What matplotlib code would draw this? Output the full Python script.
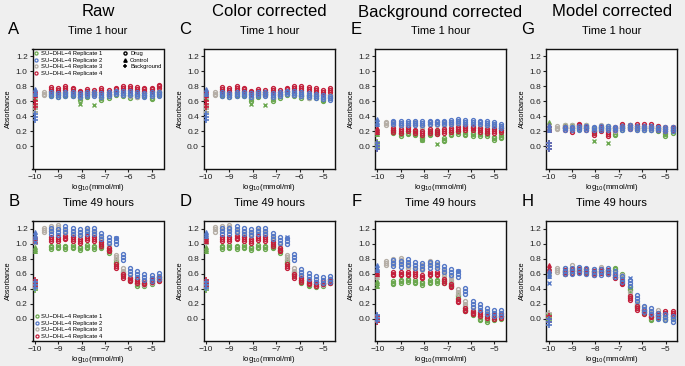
import numpy as np
import matplotlib
matplotlib.use("Agg")
import matplotlib.pyplot as plt
from matplotlib.lines import Line2D

plt.rcParams['font.family'] = ['Liberation Sans', 'DejaVu Sans']

nan = float('nan')

# ---------------- data ----------------
doses = [-9.62, -9.31, -9.00, -8.69, -8.39, -8.08, -7.77, -7.47, -7.16,
         -6.85, -6.54, -6.24, -5.93, -5.62, -5.32, -5.01, -4.70]
control_x = -10.0
column_titles = ["Raw", "Color corrected", "Background corrected", "Model corrected"]
rep_labels = ["SU\u2212DHL\u22124 Replicate 1", "SU\u2212DHL\u22124 Replicate 2",
              "SU\u2212DHL\u22124 Replicate 3", "SU\u2212DHL\u22124 Replicate 4"]
type_labels = ["Drug", "Control", "Background"]
rep_colors = ["#6ba84f", "#5578c6", "#b5aea6", "#c3203c"]

# technical spread (half range of wells) per replicate
spread_1h = [0.02, 0.025, 0.02, 0.025]
spread_49h = [0.02, 0.04, 0.03, 0.025]
ctrl_spread = 0.03
bg_spread = 0.04

# ---- A: Raw, 1 hour ----
A_r1 = [nan, 0.69, 0.68, 0.69, 0.69, 0.64, 0.68, 0.70, 0.64, 0.67, 0.70, 0.69, 0.67, 0.68, 0.69, 0.65, 0.71]
A_r2 = [nan, 0.70, 0.69, 0.70, 0.70, 0.69, 0.70, 0.70, 0.69, 0.70, 0.72, 0.71, 0.71, 0.70, 0.69, 0.70, 0.70]
A_r3 = [0.70, 0.72, 0.71, 0.73, 0.72, 0.68, 0.72, 0.71, 0.68, 0.70, 0.72, 0.71, 0.69, 0.68, 0.71, 0.70, 0.72]
A_r4 = [nan, 0.77, 0.75, 0.78, 0.76, 0.72, 0.74, 0.73, 0.75, 0.73, 0.76, 0.78, 0.78, 0.77, 0.76, 0.76, 0.80]
A_ctrl = [0.68, 0.73, 0.70, 0.72]
A_bg = [0.50, 0.39, 0.50, 0.56]
# ---- B: Raw, 49 hours ----
B_r1 = [nan, 0.95, 0.96, 0.95, 0.96, 0.94, 0.96, 0.95, 0.96, 0.90, 0.76, 0.60, 0.52, 0.46, 0.46, 0.48, 0.54]
B_r2 = [nan, 1.17, 1.16, 1.19, 1.17, 1.15, 1.17, 1.17, 1.10, 1.05, 1.03, 0.82, 0.63, 0.59, 0.55, 0.54, 0.57]
B_r3 = [1.18, 1.20, 1.22, 1.14, 1.12, 1.12, 1.18, 1.14, 1.05, 0.97, 0.82, 0.64, 0.56, 0.50, 0.48, 0.50, 0.53]
B_r4 = [nan, 1.06, 1.06, 1.08, 1.06, 1.03, 1.07, 1.06, 0.99, 0.92, 0.70, 0.57, 0.52, 0.50, 0.48, 0.51, 0.53]
B_ctrl = [0.93, 1.12, 1.05, 1.07]
B_bg = [0.42, 0.45, 0.45, 0.47]
# ---- C: Color corrected, 1 hour ----
C_r1 = [nan, 0.69, 0.68, 0.69, 0.69, 0.63, 0.68, 0.70, 0.63, 0.67, 0.70, 0.69, 0.67, 0.67, 0.67, 0.62, 0.66]
C_r2 = [nan, 0.70, 0.69, 0.70, 0.70, 0.69, 0.70, 0.70, 0.69, 0.70, 0.72, 0.71, 0.70, 0.69, 0.67, 0.66, 0.65]
C_r3 = [0.70, 0.72, 0.71, 0.73, 0.72, 0.68, 0.72, 0.71, 0.68, 0.70, 0.72, 0.71, 0.69, 0.67, 0.69, 0.67, 0.68]
C_r4 = [nan, 0.77, 0.75, 0.78, 0.76, 0.72, 0.74, 0.73, 0.75, 0.73, 0.76, 0.78, 0.78, 0.77, 0.75, 0.73, 0.75]
C_ctrl = [0.68, 0.73, 0.70, 0.72]
C_bg = [0.50, 0.39, 0.50, 0.56]
# ---- D: Color corrected, 49 hours ----
D_r1 = [nan, 0.95, 0.96, 0.95, 0.96, 0.94, 0.96, 0.95, 0.96, 0.90, 0.76, 0.60, 0.50, 0.45, 0.44, 0.46, 0.50]
D_r2 = [nan, 1.17, 1.17, 1.19, 1.17, 1.15, 1.17, 1.17, 1.10, 1.05, 1.03, 0.82, 0.62, 0.57, 0.53, 0.52, 0.53]
D_r3 = [1.19, 1.21, 1.22, 1.14, 1.12, 1.13, 1.18, 1.14, 1.05, 0.97, 0.82, 0.64, 0.55, 0.49, 0.46, 0.48, 0.50]
D_r4 = [nan, 1.06, 1.06, 1.08, 1.06, 1.03, 1.07, 1.06, 0.99, 0.92, 0.70, 0.57, 0.51, 0.48, 0.46, 0.48, 0.50]
D_ctrl = [0.93, 1.13, 1.05, 1.06]
D_bg = [0.42, 0.45, 0.45, 0.47]
# ---- E: Background corrected, 1 hour ----
E_r1 = [nan, 0.20, 0.16, 0.18, 0.17, 0.11, 0.17, 0.18, 0.09, 0.17, 0.19, 0.17, 0.16, 0.16, 0.16, 0.11, 0.13]
E_r2 = [nan, 0.32, 0.31, 0.31, 0.31, 0.31, 0.32, 0.32, 0.32, 0.33, 0.34, 0.33, 0.33, 0.32, 0.31, 0.30, 0.27]
E_r3 = [0.31, 0.29, 0.28, 0.29, 0.30, 0.27, 0.30, 0.30, 0.29, 0.31, 0.30, 0.28, 0.27, 0.26, 0.27, 0.26, 0.24]
E_r4 = [nan, 0.22, 0.21, 0.23, 0.20, 0.18, 0.21, 0.19, 0.21, 0.22, 0.23, 0.25, 0.24, 0.22, 0.21, 0.21, 0.22]
E_ctrl = [0.19, 0.33, 0.22, 0.22]
E_bg = [0.02, 0.00, 0.01, 0.00]
# ---- F: Background corrected, 49 hours ----
F_r1 = [nan, 0.48, 0.50, 0.51, 0.49, 0.47, 0.49, 0.50, 0.50, 0.45, 0.30, 0.12, 0.07, 0.00, -0.02, 0.00, 0.02]
F_r2 = [nan, 0.74, 0.73, 0.75, 0.72, 0.70, 0.72, 0.72, 0.66, 0.62, 0.60, 0.37, 0.20, 0.15, 0.10, 0.08, 0.07]
F_r3 = [0.74, 0.76, 0.78, 0.70, 0.68, 0.68, 0.74, 0.70, 0.60, 0.52, 0.36, 0.20, 0.12, 0.06, 0.04, 0.05, 0.05]
F_r4 = [nan, 0.60, 0.60, 0.60, 0.59, 0.56, 0.60, 0.60, 0.50, 0.44, 0.24, 0.12, 0.08, 0.06, 0.03, 0.02, 0.03]
F_ctrl = [0.47, 0.68, 0.58, 0.62]
F_bg = [0.00, 0.01, 0.00, 0.00]
# ---- G: Model corrected, 1 hour ----
G_r1 = [nan, 0.27, 0.27, 0.25, 0.27, 0.21, 0.24, 0.25, 0.17, 0.24, 0.26, 0.25, 0.24, 0.24, 0.23, 0.16, 0.20]
G_r2 = [nan, 0.24, 0.24, 0.25, 0.25, 0.24, 0.25, 0.25, 0.24, 0.25, 0.26, 0.25, 0.25, 0.25, 0.24, 0.23, 0.23]
G_r3 = [0.25, 0.26, 0.26, 0.27, 0.26, 0.24, 0.26, 0.25, 0.23, 0.26, 0.26, 0.24, 0.24, 0.24, 0.25, 0.23, 0.24]
G_r4 = [nan, 0.24, 0.22, 0.28, 0.24, 0.18, 0.23, 0.17, 0.24, 0.27, 0.26, 0.27, 0.27, 0.27, 0.25, 0.23, 0.24]
G_ctrl = [0.29, 0.25, 0.26, 0.25]
G_bg = [0.01, 0.00, 0.00, 0.00]
# ---- H: Model corrected, 49 hours ----
H_r1 = [nan, 0.62, 0.63, 0.65, 0.64, 0.62, 0.64, 0.63, 0.66, 0.58, 0.40, 0.17, 0.10, 0.00, 0.03, 0.00, 0.02]
H_r2 = [nan, 0.63, 0.64, 0.65, 0.64, 0.62, 0.62, 0.64, 0.60, 0.53, 0.48, 0.28, 0.13, 0.10, 0.03, 0.02, 0.00]
H_r3 = [0.65, 0.64, 0.68, 0.64, 0.63, 0.63, 0.66, 0.62, 0.58, 0.55, 0.32, 0.18, 0.12, 0.05, 0.08, 0.02, 0.04]
H_r4 = [nan, 0.62, 0.63, 0.64, 0.63, 0.61, 0.63, 0.62, 0.56, 0.48, 0.27, 0.14, 0.09, 0.04, 0.05, 0.08, 0.07]
H_ctrl = [0.64, 0.60, 0.64, 0.68]
H_bg = [0.02, -0.05, 0.04, 0.00]

# flagged wells (drawn as x): (panel, x, y, replicate index)
flag_panel = ["A", "A", "C", "C", "E", "E", "G", "G", "B", "B", "D", "F", "H", "H"]
flag_x = [-8.08, -7.47, -8.08, -7.47, -8.08, -7.47, -8.08, -7.47, -6.54, -10.0, -6.54, -6.54, -6.54, -10.0]
flag_y = [0.57, 0.55, 0.57, 0.55, 0.08, 0.03, 0.07, 0.05, 1.07, 1.02, 1.09, 0.64, 0.54, 0.48]
flag_rep = [0, 0, 0, 0, 0, 0, 0, 0, 1, 1, 1, 1, 1, 1]

panels = [
    ("A", 0, 0, "Time 1 hour", [A_r1, A_r2, A_r3, A_r4], A_ctrl, A_bg, spread_1h),
    ("B", 0, 1, "Time 49 hours", [B_r1, B_r2, B_r3, B_r4], B_ctrl, B_bg, spread_49h),
    ("C", 1, 0, "Time 1 hour", [C_r1, C_r2, C_r3, C_r4], C_ctrl, C_bg, spread_1h),
    ("D", 1, 1, "Time 49 hours", [D_r1, D_r2, D_r3, D_r4], D_ctrl, D_bg, spread_49h),
    ("E", 2, 0, "Time 1 hour", [E_r1, E_r2, E_r3, E_r4], E_ctrl, E_bg, spread_1h),
    ("F", 2, 1, "Time 49 hours", [F_r1, F_r2, F_r3, F_r4], F_ctrl, F_bg, spread_49h),
    ("G", 3, 0, "Time 1 hour", [G_r1, G_r2, G_r3, G_r4], G_ctrl, G_bg, spread_1h),
    ("H", 3, 1, "Time 49 hours", [H_r1, H_r2, H_r3, H_r4], H_ctrl, H_bg, spread_49h),
]

# ---------------- figure ----------------
W, H = 685, 366
fig = plt.figure(figsize=(W / 100, H / 100), dpi=100, facecolor="#efefef")

colw = W / 4
ax_left_off, ax_w = 32.5, 131
row_top = [49, 221]
ax_h = 120

draw_order = [0, 2, 3, 1]
ms = 2.8
mew = 1.0

def fx(px):
    return px / W

def fy(py):
    return 1 - py / H

for letter, col, row, sub, reps, ctrl, bg, spread in panels:
    left = col * colw + ax_left_off
    top = row_top[row]
    ax = fig.add_axes([fx(left), fy(top + ax_h), fx(ax_w), ax_h / H])
    ax.set_facecolor("#fafafa")
    for r in draw_order:
        c = rep_colors[r]
        s = spread[r]
        vals = np.array(reps[r], dtype=float)
        for off in (-s, 0.0, s):
            ax.plot(doses, vals + off, linestyle="none", marker="o", ms=ms,
                    mfc="none", mec=c, mew=mew, zorder=3)
        ax.plot([control_x] * 3, [ctrl[r] - ctrl_spread, ctrl[r], ctrl[r] + ctrl_spread],
                linestyle="none", marker="^", ms=ms, mfc=c, mec=c, mew=0.8, zorder=3)
        ax.plot([control_x] * 3, [bg[r] - bg_spread, bg[r], bg[r] + bg_spread],
                linestyle="none", marker="+", ms=4.0, mec=c, mew=1.2, zorder=3)
    for p, x, y, r in zip(flag_panel, flag_x, flag_y, flag_rep):
        if p == letter:
            ax.plot([x], [y], linestyle="none", marker="x", ms=2.8,
                    mec=rep_colors[r], mew=1.0, zorder=4)

    ax.set_xlim(-10.1, -4.5)
    ax.set_ylim(-0.3, 1.3)
    ax.set_xticks([-10, -9, -8, -7, -6, -5])
    ax.set_xticklabels(["\u221210", "\u22129", "\u22128", "\u22127", "\u22126", "\u22125"])
    ax.set_yticks([0.0, 0.2, 0.4, 0.6, 0.8, 1.0, 1.2])
    ax.set_yticklabels(["0.0", "0.2", "0.4", "0.6", "0.8", "1.0", "1.2"])
    ax.tick_params(axis="both", labelsize=6.0, length=2.5, width=0.8, pad=1.0,
                   colors="#222222")
    for sp in ax.spines.values():
        sp.set_linewidth(1.0)
        sp.set_color("#111111")
    ax.set_ylabel("Absorbance", fontsize=5.2, labelpad=2.5)
    ax.set_xlabel("log$_{10}$(mmol/ml)", fontsize=5.6)
    ax.xaxis.set_label_coords(0.5, -0.11)

    # panel letter and subtitle
    fig.text(fx(col * colw + 14), fy(top - 19), letter, fontsize=12,
             ha="center", va="center")
    fig.text(fx(left + ax_w / 2), fy(top - 18), sub, fontsize=8,
             ha="center", va="center")

    if letter == "A":
        h_rep = [Line2D([], [], linestyle="none", marker="o", ms=2.2, mfc="none",
                        mec=rep_colors[i], mew=0.9) for i in range(4)]
        leg1 = ax.legend(h_rep, rep_labels, loc="upper left", fontsize=4.2,
                         frameon=False, handlelength=0.6, handletextpad=0.5,
                         labelspacing=0.25, borderaxespad=0.25, borderpad=0.1)
        ax.add_artist(leg1)
        h_typ = [Line2D([], [], linestyle="none", marker="o", ms=2.2, mfc="none", mec="k", mew=1.0),
                 Line2D([], [], linestyle="none", marker="^", ms=2.4, mfc="k", mec="k"),
                 Line2D([], [], linestyle="none", marker="+", ms=3.0, mec="k", mew=1.1)]
        ax.legend(h_typ, type_labels, loc="upper right", fontsize=4.2,
                  frameon=False, handlelength=0.6, handletextpad=0.5,
                  labelspacing=0.25, borderaxespad=0.25, borderpad=0.1)
    if letter == "B":
        h_rep = [Line2D([], [], linestyle="none", marker="o", ms=2.2, mfc="none",
                        mec=rep_colors[i], mew=0.9) for i in range(4)]
        ax.legend(h_rep, rep_labels, loc="lower left", fontsize=4.2,
                  frameon=False, handlelength=0.6, handletextpad=0.5,
                  labelspacing=0.25, borderaxespad=0.3, borderpad=0.1)

for i, t in enumerate(column_titles):
    fig.text(fx(i * colw + ax_left_off + ax_w / 2), fy(12), t, fontsize=12,
             ha="center", va="center")

fig.savefig("out.png", dpi=100, facecolor=fig.get_facecolor())
